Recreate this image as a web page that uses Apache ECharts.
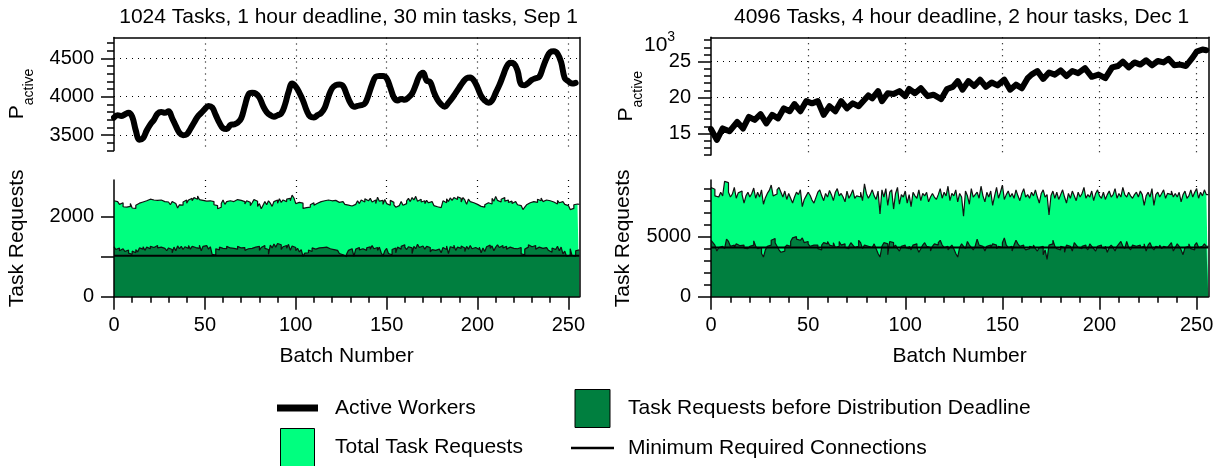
<!DOCTYPE html>
<html>
<head>
<meta charset="utf-8">
<script src="https://cdn.jsdelivr.net/npm/echarts@6/dist/echarts.min.js"></script>
<style>
  html, body { margin: 0; padding: 0; background: #fff; }
  #chart { width: 1227px; height: 466px; }
</style>
</head>
<body>
<div id="chart"></div>
<script>
// ---- Panel titles ----
const titleLeft = '1024 Tasks, 1 hour deadline, 30 min tasks, Sep 1';
const titleRight = '4096 Tasks, 4 hour deadline, 2 hour tasks, Dec 1';

// ---- Left run: active workers, sampled every 2 batches ----
const activeStepL = 2;
const activeL = [
  3730,3760,3750,3770,3790,3740,3560,3440,3460,3560,
  3640,3700,3780,3800,3790,3810,3720,3620,3530,3500,
  3510,3580,3660,3740,3790,3840,3880,3860,3760,3660,
  3590,3580,3630,3640,3660,3720,3880,4030,4050,4040,
  3990,3880,3800,3760,3740,3760,3780,3890,4060,4170,
  4130,4050,3950,3820,3740,3730,3760,3790,3860,4000,
  4110,4150,4160,4140,4030,3920,3870,3880,3890,3910,
  4020,4160,4260,4270,4270,4240,4120,3990,3950,3970,
  3960,3990,4040,4150,4270,4310,4210,4190,4060,3960,
  3900,3870,3920,3980,4050,4120,4190,4240,4250,4210,
  4120,4010,3950,3920,3950,4050,4150,4270,4390,4440,
  4430,4340,4160,4150,4180,4220,4240,4260,4380,4500,
  4580,4590,4560,4450,4240,4200,4170,4180
];

// ---- Left run: task requests per batch ----
const totalL = [
  2400,2380,2390,2310,2350,2250,2240,2200,2260,2330,
  2220,2210,2290,2340,2330,2370,2360,2400,2390,2440,
  2460,2420,2400,2410,2390,2420,2400,2380,2410,2370,
  2340,2300,2380,2330,2280,2220,2300,2290,2370,2420,
  2340,2420,2460,2400,2480,2440,2520,2430,2410,2450,
  2390,2420,2400,2360,2380,2300,2280,2200,2240,2330,
  2420,2310,2380,2400,2420,2380,2410,2430,2390,2410,
  2420,2380,2320,2400,2360,2280,2350,2430,2390,2260,
  2330,2200,2290,2380,2300,2400,2340,2260,2380,2420,
  2340,2450,2360,2420,2380,2440,2460,2400,2540,2470,
  2330,2360,2320,2340,2210,2230,2200,2240,2300,2350,
  2290,2340,2330,2380,2370,2400,2390,2420,2410,2400,
  2380,2410,2390,2360,2400,2380,2330,2310,2290,2250,
  2270,2250,2310,2280,2400,2330,2420,2370,2450,2400,
  2380,2460,2370,2420,2330,2490,2390,2410,2310,2430,
  2330,2290,2410,2360,2300,2240,2280,2310,2380,2290,
  2330,2400,2460,2380,2480,2420,2510,2390,2440,2370,
  2400,2330,2410,2350,2380,2330,2280,2250,2300,2230,
  2270,2400,2350,2450,2380,2470,2410,2480,2430,2500,
  2460,2370,2480,2420,2310,2440,2380,2350,2400,2310,
  2280,2260,2310,2240,2300,2350,2400,2320,2460,2390,
  2510,2410,2370,2440,2480,2390,2420,2360,2390,2330,
  2380,2350,2300,2280,2250,2180,2240,2300,2350,2320,
  2380,2410,2360,2440,2400,2470,2380,2420,2450,2400,
  2430,2370,2390,2320,2410,2350,2380,2340,2310,2280,
  2250,2180,2210,2300,2320,2310
];
const beforeL = [
  1250,1180,1220,1150,1200,1240,1130,1170,1090,1060,
  1140,1100,1180,1120,1220,1190,1250,1160,1240,1200,
  1260,1230,1210,1280,1220,1240,1190,1210,1170,1150,
  1220,1180,1100,1240,1150,1270,1200,1260,1180,1250,
  1210,1280,1190,1260,1230,1270,1210,1290,1150,1260,
  1280,1240,1190,1250,1060,1040,1200,1170,1240,1210,
  1230,1200,1260,1220,1250,1210,1240,1190,1260,1220,
  1180,1230,1160,1200,1150,1210,1170,1240,1190,1260,
  1160,1230,1280,1210,1180,1060,1290,1220,1320,1240,
  1330,1300,1180,1250,1280,1210,1310,1160,1270,1230,
  1150,1210,1120,1180,1010,1090,1100,1170,1130,1220,
  1190,1240,1220,1270,1230,1260,1240,1250,1200,1230,
  1180,1210,1160,1140,1080,1050,1100,1000,1070,1160,
  1200,1180,1010,1190,1230,1170,1200,1240,1160,1220,
  1250,1190,1280,1200,1230,1160,1240,1100,1020,1150,
  1210,1080,1050,1180,1220,1100,1240,1190,1260,1300,
  1240,1180,1250,1220,1080,1260,1200,1310,1230,1270,
  1250,1190,1260,1230,1120,1180,1160,1210,1190,1240,
  1100,1230,1180,1270,1080,1250,1220,1290,1160,1240,
  1210,1270,1220,1130,1260,1190,1280,1200,1230,1250,
  1180,1240,1100,1220,1130,1250,1290,1210,1270,1150,
  1240,1300,1230,1280,1220,1260,1190,1240,1270,1210,
  1250,1200,1180,1230,1070,1050,1190,1240,1300,1250,
  1220,1280,1190,1240,1270,1210,1260,1230,1200,1160,
  1110,1220,1180,1200,1260,1150,1240,1070,1140,1010,
  1040,1200,1030,1010,1150,1170
];
const minConnL = 1024;

// ---- Right run: active workers ----
const activeBatchR = [
  0,1,3,6,9.5,13.5,16.5,19.5,22.5,25.5,
  28.5,31.5,34.5,37.5,40.5,43,46,49,52,55,
  58,61,64,67,70,73,76,79,81,83,
  86,88,91,94,97,100,102,105,108,111.5,
  114.5,118.5,121.5,124.5,127,129.5,132.5,135.5,138.5,141.5,
  144.5,147.5,151,154,157,160,163,165,168,171,
  174,177,180,183,186,189,192.5,196,199.5,203,
  206.5,209.5,212,215,218,221,224,227,230,233,
  235.5,238.5,241.5,244.5,248,250,253,255
];
const activeR = [
  15600,15400,14100,15700,15300,16600,15700,17300,16900,17700,
  16400,17600,17100,18500,18100,19100,18100,19500,19200,19500,
  17600,18800,18100,19500,18500,19200,18800,19700,20300,19900,
  20900,19500,20600,20500,20900,20200,21200,20600,21300,20200,
  20400,19800,21200,21500,22300,21100,22300,21600,22500,21500,
  22100,21700,22500,21100,21800,21300,22700,23200,23700,22600,
  23500,23200,23800,23000,23700,23400,24100,22900,23200,22700,
  24200,24400,25000,24200,24900,24600,25200,24500,25100,24900,
  25400,24500,24600,24400,25600,26400,26700,26600
];

// ---- Right run: task requests per batch ----
const totalR = [
  9100,8950,8400,8300,8450,8700,8400,9600,9500,8700,
  8300,8550,9100,8200,8650,8800,8500,7800,8400,8700,
  8300,8600,9050,8200,8700,8300,8900,7700,8250,8600,
  8850,9300,8400,8550,8900,9100,8700,8300,8800,8100,
  8600,8200,7800,8300,8700,8500,8900,7500,8100,8400,
  8700,8450,8050,7800,8250,8700,8900,8400,8000,8600,
  8300,8850,8500,8000,8700,9000,8400,8600,8300,7900,
  8800,8200,8500,8900,8200,8400,8300,8700,8000,9400,
  8600,8200,8500,8900,8400,8100,8800,6900,8900,8300,
  9000,7600,8700,8900,7300,8600,9100,7700,8500,8300,
  8800,7800,8500,7500,8700,8400,8200,8900,8000,8600,
  8400,8700,7900,8300,8600,8300,8100,8500,9000,8200,
  8700,8400,9200,8000,8600,8400,8900,7900,8600,8300,
  6700,8800,8400,7700,9000,8300,8500,8700,8200,9200,
  8400,7900,8700,8300,8800,7600,8400,9100,8200,8700,
  9300,8100,8500,8800,8300,8600,8200,8900,8400,8000,
  8600,9000,8300,8500,8200,8700,8400,8900,8300,7800,
  8600,8900,8300,8500,6800,8400,8800,8200,8700,8100,
  8500,8900,8300,7800,8600,8200,8800,8400,8000,8700,
  8300,8600,9100,8200,8500,8300,8800,8000,8600,8900,
  8400,8200,8700,8100,8500,8800,8300,8500,9000,8200,
  8600,8300,9100,8500,8300,8700,8400,8200,8500,8700,
  8300,8800,8500,7600,8400,8700,8300,9000,7600,8500,
  8700,8300,8600,8900,8200,8600,8500,8800,8300,8600,
  8300,8700,7900,8500,8800,8200,8400,8900,8300,8700,
  9000,8200,8700,8400,8900,8500
];
const beforeR = [
  4700,4500,4300,3800,4100,4200,4150,4000,4800,4600,
  4200,4300,4100,4400,4250,4150,4300,4050,4000,4100,
  4200,4300,4650,4200,4000,4100,3600,3300,3900,4200,
  4300,4700,4850,4500,4200,3900,3700,3800,4100,4300,
  4200,4600,4900,5000,4800,4700,4600,4900,4500,4600,
  4400,4200,4300,4250,4300,4000,3900,4300,4500,4400,
  4600,4300,4200,4500,4100,4200,4600,4300,4400,4100,
  4000,4200,4500,4300,4100,4200,4700,4500,4000,4300,
  4200,4300,4100,4200,4400,4000,3600,3300,4200,4500,
  4400,3500,4600,4500,4100,4300,4000,3800,4200,4300,
  4100,4000,4200,3900,4300,4400,4100,3700,4000,4300,
  4500,4200,4100,3800,4200,4400,4300,4500,4700,4300,
  4100,4200,3900,4100,4300,4000,3600,3300,4100,4400,
  4200,4000,4600,4300,4100,3900,4200,4800,4300,4200,
  4100,3800,4200,4300,4100,4400,4300,4000,4200,4100,
  4500,4900,4300,4100,4200,3800,4300,4700,4400,4200,
  4300,4100,3900,4000,4200,4100,4300,4000,3800,4100,
  4200,3500,3900,3100,4300,4400,4700,4200,4000,3900,
  4200,4100,3700,4300,4200,4100,3800,4500,4300,4100,
  4000,4200,4300,4100,3900,4400,4200,4000,3800,4200,
  4300,4100,4000,4200,3700,4100,4300,4100,3800,4200,
  4400,4600,4200,4000,4600,4100,3900,4300,4200,4100,
  4300,4100,4200,4400,3800,4300,4500,4100,3900,4200,
  4100,4300,4000,4200,4100,4000,4300,4500,3800,4100,
  4400,4200,3900,3500,4100,4200,4400,4000,3900,4300,
  4500,4100,4200,4300,4400,4200
];
const minConnR = 4096;

// ---- Tick values ----
const batchMajorTicks = [0, 50, 100, 150, 200, 250];
const batchGridTicks = [50, 100, 150, 200, 250];
const batchMinorTicks = [10,20,30,40,60,70,80,90,110,120,130,140,160,170,180,190,210,220,230,240];
const activeMajorL = [3500, 4000, 4500];
const activeMinorL = [3300,3400,3600,3700,3800,3900,4100,4200,4300,4400,4600,4700];
const activeMajorR = [15000, 20000, 25000];
const activeMinorR = [12000,13000,14000,16000,17000,18000,19000,21000,22000,23000,24000,26000,27000,28000];
const requestTicksL = [0, 1000, 2000];
const requestLabelsL = [0, 2000];
const requestMajorR = [0, 5000];
const requestMinorR = [1000,2000,3000,4000,6000,7000,8000,9000];

// ---- Look ----
const FONT = '"Liberation Sans", Arial, Helvetica, sans-serif';
const LIGHT = '#00ff7f';
const DARK = '#007f3f';
const BATCH_MAX = 256;

const lineBlack = { color: '#000', width: 1.5 };
const dotted = { show: true, lineStyle: { color: '#000', width: 1.2, type: [1, 5] } };
const tickFont = { fontSize: 20, color: '#000', fontFamily: FONT, formatter: v => String(v) };
const nameFont = { fontSize: 21, color: '#000', fontFamily: FONT };
const subName = {
  fontSize: 21, color: '#000', fontFamily: FONT,
  rich: {
    p: { fontSize: 21, color: '#000', fontFamily: FONT, verticalAlign: 'top' },
    sub: { fontSize: 14, color: '#000', fontFamily: FONT, verticalAlign: 'bottom', padding: [15, 0, 0, 0] }
  }
};

const panelL = { left: 114, width: 465.3 };
const panelR = { left: 711, width: 497.3 };

const grids = [
  { left: panelL.left, width: panelL.width, top: 37.5, height: 113 },     // 0 left active
  { left: panelL.left, width: panelL.width, top: 180, height: 116.7 },    // 1 left requests
  { left: panelL.left, width: panelL.width, top: 37.5, height: 259.2 },   // 2 left frame
  { left: panelR.left, width: panelR.width, top: 37.3, height: 117.7 },   // 3 right active
  { left: panelR.left, width: panelR.width, top: 180, height: 116.7 },    // 4 right requests
  { left: panelR.left, width: panelR.width, top: 37.3, height: 259.4 }    // 5 right frame
];

function stepData(vals) {
  const d = vals.map((v, i) => [i, v]);
  d.push([vals.length, vals[vals.length - 1]]);
  return d;
}

function xAxesFor(gTop, gBottom, gFrame) {
  return [
    { // top border with vertical dotted grid
      gridIndex: gTop, type: 'value', position: 'top', min: 0, max: BATCH_MAX,
      axisLine: { show: true, onZero: false, lineStyle: lineBlack },
      axisTick: { show: false, customValues: batchGridTicks },
      axisLabel: { show: false }, splitLine: dotted
    },
    { // batch axis, major ticks and labels
      gridIndex: gBottom, type: 'value', position: 'bottom', min: 0, max: BATCH_MAX, z: 10,
      axisLine: { show: true, onZero: false, lineStyle: lineBlack },
      axisTick: { show: true, length: 13, customValues: batchMajorTicks, lineStyle: lineBlack },
      axisLabel: { show: true, customValues: batchMajorTicks, margin: 19, ...tickFont },
      splitLine: { show: false },
      name: 'Batch Number', nameLocation: 'middle', nameGap: 49, nameTextStyle: nameFont
    },
    { // minor batch ticks
      gridIndex: gBottom, type: 'value', position: 'bottom', min: 0, max: BATCH_MAX, z: 10,
      axisLine: { show: false, onZero: false },
      axisTick: { show: true, length: 6, customValues: batchMinorTicks, lineStyle: lineBlack },
      axisLabel: { show: false }, splitLine: { show: false }
    },
    { // dotted verticals behind the histograms
      gridIndex: gBottom, type: 'value', position: 'bottom', min: 0, max: BATCH_MAX,
      axisLine: { show: false, onZero: false },
      axisTick: { show: false, customValues: batchGridTicks },
      axisLabel: { show: false }, splitLine: dotted
    },
    { gridIndex: gFrame, type: 'value', show: false, min: 0, max: 1 }
  ];
}

const yAxes = [
  // left active: major
  { gridIndex: 0, type: 'value', position: 'left', min: 3300, max: 4770,
    axisLine: { show: true, onZero: false, lineStyle: lineBlack },
    axisTick: { show: true, length: 13, customValues: activeMajorL, lineStyle: lineBlack },
    axisLabel: { show: true, customValues: activeMajorL, margin: 20, ...tickFont },
    splitLine: dotted },
  // left active: minor + name
  { gridIndex: 0, type: 'value', position: 'left', min: 3300, max: 4770,
    axisLine: { show: false, onZero: false },
    axisTick: { show: true, length: 7, customValues: activeMinorL, lineStyle: lineBlack },
    axisLabel: { show: false }, splitLine: { show: false },
    name: '{p|P}{sub|active}', nameLocation: 'middle', nameRotate: 90, nameGap: 78, nameTextStyle: subName },
  // left requests
  { gridIndex: 1, type: 'value', position: 'left', min: 0, max: 2920, z: 10,
    axisLine: { show: true, onZero: false, lineStyle: lineBlack },
    axisTick: { show: true, length: 13, customValues: requestTicksL, lineStyle: lineBlack },
    axisLabel: { show: true, customValues: requestLabelsL, margin: 20, ...tickFont },
    splitLine: { show: false },
    name: 'Task Requests', nameLocation: 'middle', nameRotate: 90, nameGap: 86, nameTextStyle: nameFont },
  // left frame (right border)
  { gridIndex: 2, type: 'value', position: 'right', min: 0, max: 1, z: 10,
    axisLine: { show: true, onZero: false, lineStyle: lineBlack },
    axisTick: { show: false }, axisLabel: { show: false }, splitLine: { show: false } },
  // right active: major
  { gridIndex: 3, type: 'value', position: 'left', min: 12000, max: 28400,
    axisLine: { show: true, onZero: false, lineStyle: lineBlack },
    axisTick: { show: true, length: 13, customValues: activeMajorR, lineStyle: lineBlack },
    axisLabel: { show: true, customValues: activeMajorR, margin: 20, ...tickFont,
                 formatter: v => String(v / 1000) },
    splitLine: dotted },
  // right active: minor + name
  { gridIndex: 3, type: 'value', position: 'left', min: 12000, max: 28400,
    axisLine: { show: false, onZero: false },
    axisTick: { show: true, length: 7, customValues: activeMinorR, lineStyle: lineBlack },
    axisLabel: { show: false }, splitLine: { show: false },
    name: '{p|P}{sub|active}', nameLocation: 'middle', nameRotate: 90, nameGap: 66, nameTextStyle: subName },
  // right requests: major
  { gridIndex: 4, type: 'value', position: 'left', min: 0, max: 9720, z: 10,
    axisLine: { show: true, onZero: false, lineStyle: lineBlack },
    axisTick: { show: true, length: 13, customValues: requestMajorR, lineStyle: lineBlack },
    axisLabel: { show: true, customValues: requestMajorR, margin: 20, ...tickFont },
    splitLine: { show: false },
    name: 'Task Requests', nameLocation: 'middle', nameRotate: 90, nameGap: 77, nameTextStyle: nameFont },
  // right requests: minor
  { gridIndex: 4, type: 'value', position: 'left', min: 0, max: 9720, z: 10,
    axisLine: { show: false, onZero: false },
    axisTick: { show: true, length: 7, customValues: requestMinorR, lineStyle: lineBlack },
    axisLabel: { show: false }, splitLine: { show: false } },
  // right frame (right border)
  { gridIndex: 5, type: 'value', position: 'right', min: 0, max: 1, z: 10,
    axisLine: { show: true, onZero: false, lineStyle: lineBlack },
    axisTick: { show: false }, axisLabel: { show: false }, splitLine: { show: false } }
];

const xAxes = xAxesFor(0, 1, 2).concat(xAxesFor(3, 4, 5));
// x indices: left top 0, left batch 1; right top 5, right batch 6

function histSeries(name, vals, color, xi, yi, z) {
  return {
    name, type: 'line', step: 'end', symbol: 'none', xAxisIndex: xi, yAxisIndex: yi, z,
    data: stepData(vals),
    lineStyle: { color: '#111', width: 1.2 },
    itemStyle: { color },
    areaStyle: { color, opacity: 1 },
    silent: true
  };
}
function minSeries(value, xi, yi) {
  return {
    name: 'Minimum Required Connections', type: 'line', symbol: 'none', xAxisIndex: xi, yAxisIndex: yi, z: 4,
    data: [[0, value], [BATCH_MAX, value]],
    lineStyle: { color: '#000', width: 2 }, itemStyle: { color: '#000' }, silent: true
  };
}
function activeSeries(points, xi, yi, smooth) {
  return {
    name: 'Active Workers', type: 'line', symbol: 'none', xAxisIndex: xi, yAxisIndex: yi, z: 5,
    data: points, smooth,
    lineStyle: { color: '#000', width: 6, join: 'round', cap: 'round' },
    itemStyle: { color: '#000' }, silent: true
  };
}

const series = [
  histSeries('Total Task Requests', totalL, LIGHT, 1, 2, 2),
  histSeries('Task Requests before Distribution Deadline', beforeL, DARK, 1, 2, 3),
  minSeries(minConnL, 1, 2),
  activeSeries(activeL.map((v, i) => [i * activeStepL, v]), 0, 0, 0.4),
  histSeries('Total Task Requests', totalR, LIGHT, 6, 6, 2),
  histSeries('Task Requests before Distribution Deadline', beforeR, DARK, 6, 6, 3),
  minSeries(minConnR, 6, 6),
  activeSeries(activeBatchR.map((b, i) => [b, activeR[i]]), 5, 4, false)
];

const ICON_THICK = 'path://M0,0H41V7H0Z';
const ICON_THIN = 'path://M0,0H43V2.5H0Z';
const ICON_BOX = 'path://M0,0H34V38H0Z';
const ICON_BOX2 = 'path://M0,0H35V38H0Z';

const legendText = { fontSize: 21, color: '#000', fontFamily: FONT };

const option = {
  animation: false,
  backgroundColor: '#fff',
  title: [
    { text: titleLeft, left: panelL.left + panelL.width / 2 - 3, top: 2, textAlign: 'center',
      textStyle: { fontSize: 21, fontWeight: 'normal', color: '#000', fontFamily: FONT } },
    { text: titleRight, left: panelR.left + panelR.width / 2 - 3, top: 2, textAlign: 'center',
      textStyle: { fontSize: 21, fontWeight: 'normal', color: '#000', fontFamily: FONT } }
  ],
  grid: grids,
  xAxis: xAxes,
  yAxis: yAxes,
  legend: [
    { orient: 'vertical', left: 277, top: 397.5, width: 300, height: 120, padding: 0,
      itemWidth: 41, itemHeight: 38, itemGap: 9.5,
      selectedMode: false, textStyle: { ...legendText, padding: [0, 0, 0, 12] },
      data: [
        { name: 'Active Workers', icon: ICON_THICK, itemStyle: { color: '#000', borderWidth: 0 } },
        { name: 'Total Task Requests', icon: ICON_BOX, itemStyle: { color: LIGHT, borderColor: '#000', borderWidth: 1 } }
      ] },
    { orient: 'vertical', left: 571, top: 389, width: 600, height: 120, padding: 0,
      itemWidth: 43, itemHeight: 38, itemGap: 9.5,
      selectedMode: false, textStyle: { ...legendText, padding: [0, 0, 0, 9] },
      data: [
        { name: 'Task Requests before Distribution Deadline', icon: ICON_BOX2, itemStyle: { color: DARK, borderColor: '#000', borderWidth: 1 } },
        { name: 'Minimum Required Connections', icon: ICON_THIN, itemStyle: { color: '#000', borderWidth: 0 } }
      ] }
  ],
  graphic: [
    { type: 'text', left: 644, top: 30, silent: true,
      style: { text: '{b|10}{s|3}', fill: '#000',
        rich: {
          b: { fontSize: 21, fontFamily: FONT, fill: '#000', verticalAlign: 'bottom', padding: [5, 0, 0, 0] },
          s: { fontSize: 14, fontFamily: FONT, fill: '#000', verticalAlign: 'top' }
        } } }
  ],
  series
};

const chart = echarts.init(document.getElementById('chart'), null, { renderer: 'canvas' });
chart.setOption(option);
</script>
</body>
</html>
